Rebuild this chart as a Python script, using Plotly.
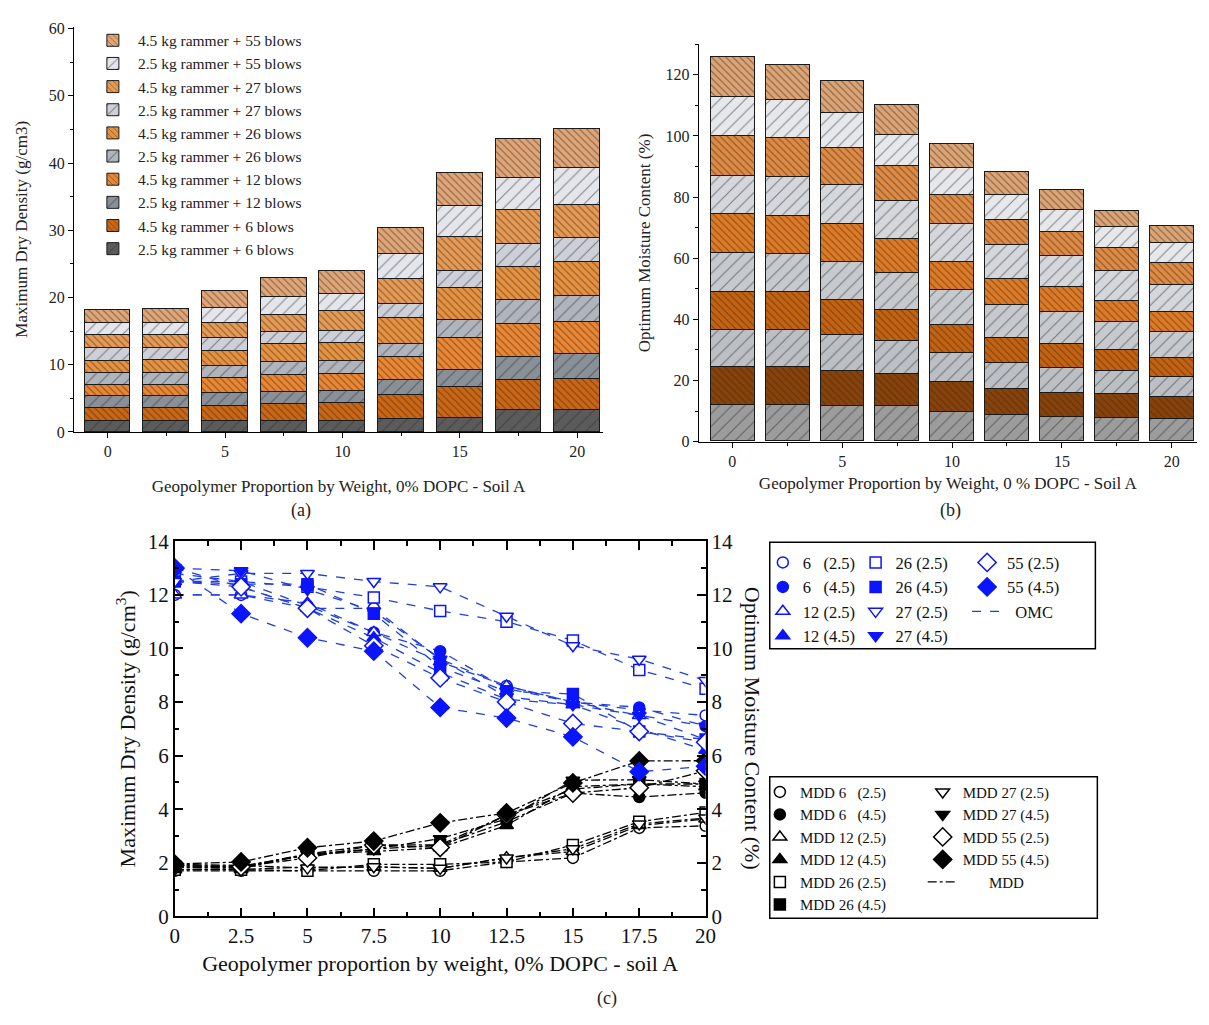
import plotly.graph_objects as go

# Geopolymer proportion by weight (%)
geo = [0, 2.5, 5, 7.5, 10, 12.5, 15, 17.5, 20]

# Maximum dry density (g/cm3) per compaction effort: blows (rammer mass, kg)
mdd_06_25 = [1.70, 1.70, 1.70, 1.70, 1.70, 2.03, 2.18, 3.30, 3.38]
mdd_06_45 = [1.88, 1.88, 2.27, 2.51, 2.66, 3.53, 4.60, 4.45, 4.61]
mdd_12_25 = [1.75, 1.75, 1.84, 1.84, 1.79, 2.19, 2.42, 3.39, 3.63]
mdd_12_45 = [1.74, 1.78, 2.32, 2.42, 2.56, 3.39, 4.84, 4.94, 4.84]
mdd_26_25 = [1.74, 1.74, 1.70, 1.94, 1.94, 2.03, 2.66, 3.53, 3.88]
mdd_26_45 = [1.84, 1.84, 2.33, 2.66, 2.67, 3.78, 4.75, 4.94, 4.94]
mdd_27_25 = [1.94, 1.90, 1.80, 1.85, 1.79, 2.18, 2.52, 3.45, 3.67]
mdd_27_45 = [1.83, 1.83, 2.32, 2.51, 2.90, 3.63, 5.08, 5.10, 4.94]
mdd_55_25 = [1.89, 1.85, 2.18, 2.66, 2.57, 3.78, 4.60, 4.80, 5.43]
mdd_55_45 = [1.95, 2.03, 2.56, 2.81, 3.49, 3.86, 4.98, 5.80, 5.81]

# Optimum moisture content (%) per compaction effort
omc_06_25 = [12.0, 12.0, 11.5, 11.5, 9.6, 8.6, 8.0, 7.7, 7.5]
omc_06_45 = [12.5, 12.5, 11.6, 10.6, 9.9, 8.5, 8.0, 7.8, 7.1]
omc_12_25 = [12.0, 12.0, 11.7, 10.6, 9.5, 8.6, 8.0, 7.5, 6.6]
omc_12_45 = [12.5, 12.3, 11.5, 10.4, 9.1, 8.1, 7.9, 7.0, 6.2]
omc_26_25 = [12.8, 12.5, 12.3, 11.9, 11.4, 11.0, 10.3, 9.2, 8.5]
omc_26_45 = [12.5, 12.4, 12.4, 11.3, 9.3, 8.4, 8.3, 6.9, 6.6]
omc_27_25 = [12.5, 12.8, 12.8, 12.5, 12.3, 11.2, 10.1, 9.6, 8.8]
omc_27_45 = [13.0, 12.9, 12.2, 11.4, 9.6, 8.2, 7.9, 7.5, 7.1]
omc_55_25 = [13.0, 12.3, 11.5, 10.1, 8.9, 8.0, 7.2, 6.9, 6.5]
omc_55_45 = [13.0, 11.3, 10.4, 9.9, 7.8, 7.4, 6.7, 5.4, 5.6]

blows = [6, 6, 12, 12, 26, 26, 27, 27, 55, 55]
rammer = [2.5, 4.5, 2.5, 4.5, 2.5, 4.5, 2.5, 4.5, 2.5, 4.5]

mdd = [mdd_06_25, mdd_06_45, mdd_12_25, mdd_12_45, mdd_26_25,
       mdd_26_45, mdd_27_25, mdd_27_45, mdd_55_25, mdd_55_45]
omc = [omc_06_25, omc_06_45, omc_12_25, omc_12_45, omc_26_25,
       omc_26_45, omc_27_25, omc_27_45, omc_55_25, omc_55_45]

W, H = 1209, 1025
SERIF = "Liberation Serif"


def px(v):
    return v / W


def py(v):
    return 1 - v / H


# Fill colours of the stacked segments
colors_a = ["#5b5b5b", "#cc6612", "#8a9098", "#ec8630", "#b0b4bc",
            "#e8923e", "#cdd0d8", "#e89a52", "#e4e6ec", "#e2a676"]
colors_b = ["#9c9c9c", "#8a4208", "#bcc0c4", "#c6620e", "#c6cacf",
            "#e07a22", "#d4d7db", "#e08a42", "#e6e8eb", "#dea474"]

fig = go.Figure()

for i in range(10):
    heavy = rammer[i] == 4.5
    label = f"{rammer[i]} kg rammer + {blows[i]} blows"
    for ax, vals, cols, wdt, show in (("", mdd, colors_a, 1.95, True),
                                      ("2", omc, colors_b, 2.0, False)):
        fig.add_trace(go.Bar(
            x=geo, y=vals[i], name=label, width=wdt,
            xaxis="x" + ax, yaxis="y" + ax,
            showlegend=show, legend="legend",
            marker=dict(
                color=cols[i],
                line=dict(color="#1a1a1a", width=1),
                pattern=dict(shape="\\" if heavy else "/",
                             fgcolor="#2b2b2b", bgcolor=cols[i],
                             size=5 if heavy else 9,
                             solidity=0.22 if heavy else 0.13,
                             fillmode="overlay"),
            ),
        ))

# Marker symbols per compaction effort
symbols = ["circle", "circle", "triangle-up", "triangle-up", "square",
           "square", "triangle-down", "triangle-down", "diamond", "diamond"]
sizes = [11, 11, 12, 12, 11, 11, 12, 12, 14, 14]
nb = "\u00a0"


def short_name(i):
    b = f"{blows[i]}" + (nb * 3 if blows[i] < 10 else " ")
    return f"{b}({rammer[i]})"


omc_legends = ["legend2"] * 4 + ["legend3"] * 4 + ["legend4"] * 2
mdd_legends = ["legend5"] * 6 + ["legend6"] * 4

# MDD lines and markers (left axis)
for i in range(10):
    fig.add_trace(go.Scatter(
        x=geo, y=mdd[i], mode="lines", xaxis="x3", yaxis="y3",
        line=dict(color="black", width=1.3, dash="dashdot"),
        name=nb * 7 + "MDD", showlegend=(i == 0), legend="legend6",
        legendrank=1100, hoverinfo="skip"))
for i in range(10):
    filled = rammer[i] == 4.5
    fig.add_trace(go.Scatter(
        x=geo, y=mdd[i], mode="markers", xaxis="x3", yaxis="y3",
        name="MDD " + short_name(i), legend=mdd_legends[i],
        legendrank=1000 + i,
        marker=dict(symbol=symbols[i], size=sizes[i],
                    color="black" if filled else "white",
                    line=dict(color="black", width=1.5))))

# OMC lines and markers (right axis)
for i in range(10):
    fig.add_trace(go.Scatter(
        x=geo, y=omc[i], mode="lines", xaxis="x3", yaxis="y4",
        line=dict(color="#1f3fe0", width=1.3, dash="dash"),
        name=nb * 2 + "OMC", showlegend=(i == 0), legend="legend4",
        legendrank=1100, hoverinfo="skip"))
for i in range(10):
    filled = rammer[i] == 4.5
    fig.add_trace(go.Scatter(
        x=geo, y=omc[i], mode="markers", xaxis="x3", yaxis="y4",
        name=short_name(i), legend=omc_legends[i], legendrank=1000 + i,
        marker=dict(symbol=symbols[i], size=sizes[i],
                    color="#0a14ff" if filled else "white",
                    line=dict(color="#0a14ff", width=1.5))))

axis_common = dict(showline=True, linecolor="black", linewidth=1,
                   showgrid=False, zeroline=False, ticks="outside",
                   tickcolor="black", ticklen=5,
                   tickfont=dict(family=SERIF, size=16, color="#222"))

small_title = dict(family=SERIF, size=17, color="#222")
big_font = dict(family=SERIF, size=21, color="#111")

fig.update_layout(
    width=W, height=H, margin=dict(l=0, r=0, t=0, b=0),
    paper_bgcolor="white", plot_bgcolor="white",
    barmode="stack", bargap=0,
    xaxis=dict(axis_common, domain=[px(70), px(606)], range=[-1.43, 21.1],
               tick0=0, dtick=5, anchor="y",
               minor=dict(dtick=2.5, ticks="outside", ticklen=3, tickcolor="black"),
               title=dict(text="Geopolymer Proportion by Weight, 0% DOPC - Soil A",
                          font=small_title, standoff=20)),
    yaxis=dict(axis_common, domain=[py(430), py(15)], range=[0, 60.3],
               dtick=10, anchor="x",
               minor=dict(dtick=5, ticks="outside", ticklen=3, tickcolor="black"),
               title=dict(text="Maximum Dry Density (g/cm3)",
                          font=small_title, standoff=16)),
    xaxis2=dict(axis_common, domain=[px(703), px(1208)], range=[-1.53, 21.15],
                tick0=0, dtick=5, anchor="y2",
                minor=dict(dtick=2.5, ticks="outside", ticklen=3, tickcolor="black"),
                title=dict(text="Geopolymer Proportion by Weight, 0 % DOPC - Soil A",
                           font=small_title, standoff=8)),
    yaxis2=dict(axis_common, domain=[py(440), py(33)], range=[0, 130],
                dtick=20, anchor="x2",
                minor=dict(dtick=10, ticks="outside", ticklen=3, tickcolor="black"),
                title=dict(text="Optimum Moisture Content (%)",
                           font=small_title, standoff=10)),
    xaxis3=dict(showline=True, linecolor="black", linewidth=1.5, mirror="ticks",
                showgrid=False, zeroline=False, ticks="inside", ticklen=9,
                tickcolor="black", tickwidth=1.5,
                domain=[px(172), px(710)], range=[0, 20], dtick=2.5,
                anchor="y3", tickfont=big_font,
                minor=dict(dtick=1.25, ticks="inside", ticklen=5,
                           tickcolor="black", tickwidth=1.5),
                title=dict(text="Geopolymer proportion by weight, 0% DOPC - soil A",
                           font=dict(family=SERIF, size=22, color="#111"),
                           standoff=8)),
    yaxis3=dict(showline=True, linecolor="black", linewidth=1.5,
                showgrid=False, zeroline=False, ticks="inside", ticklen=9,
                tickcolor="black", tickwidth=1.5,
                domain=[py(926), py(542)], range=[0, 14], dtick=2,
                anchor="x3", tickfont=big_font,
                minor=dict(dtick=1, ticks="inside", ticklen=5,
                           tickcolor="black", tickwidth=1.5),
                title=dict(text="Maximum Dry Density (g/cm<sup>3</sup>)",
                           font=dict(family=SERIF, size=22, color="#111"),
                           standoff=6)),
    yaxis4=dict(showline=True, linecolor="black", linewidth=1.5,
                showgrid=False, zeroline=False, ticks="inside", ticklen=9,
                tickcolor="black", tickwidth=1.5,
                overlaying="y3", side="right", anchor="x3",
                range=[0, 14], dtick=2, tickfont=big_font,
                minor=dict(dtick=1, ticks="inside", ticklen=5,
                           tickcolor="black", tickwidth=1.5)),
    legend=dict(x=px(84), y=py(12), xanchor="left", yanchor="top",
                traceorder="reversed", bgcolor="rgba(0,0,0,0)",
                font=dict(family=SERIF, size=15.5, color="#222"),
                itemwidth=40, tracegroupgap=0),
    shapes=[
        dict(type="rect", xref="paper", yref="paper",
             x0=px(775), x1=px(1105), y0=py(652), y1=py(543),
             line=dict(color="black", width=1.5)),
        dict(type="rect", xref="paper", yref="paper",
             x0=px(775), x1=px(1107), y0=py(928), y1=py(783),
             line=dict(color="black", width=1.5)),
    ],
    annotations=[
        dict(text="(a)", x=px(300), y=py(510), xref="paper", yref="paper",
             xanchor="center", yanchor="middle",
             showarrow=False, font=dict(family=SERIF, size=18, color="#222")),
        dict(text="(b)", x=px(958), y=py(510), xref="paper", yref="paper",
             xanchor="center", yanchor="middle",
             showarrow=False, font=dict(family=SERIF, size=18, color="#222")),
        dict(text="(c)", x=px(610), y=py(1010), xref="paper", yref="paper",
             xanchor="center", yanchor="middle",
             showarrow=False, font=dict(family=SERIF, size=18, color="#222")),
        dict(text="Optimum Moisture Content (%)", x=px(757), y=py(734),
             xref="paper", yref="paper", showarrow=False, textangle=90,
             xanchor="center", yanchor="middle",
             font=dict(family=SERIF, size=22, color="#111")),
    ],
)

for name, x, y, fs in (("legend2", 768, 546, 16.5), ("legend3", 862, 546, 16.5),
                       ("legend4", 975, 546, 16.5), ("legend5", 765, 782, 15),
                       ("legend6", 930, 782, 15)):
    fig.update_layout({name: dict(x=px(x), y=py(y), xanchor="left", yanchor="top",
                                  bgcolor="rgba(0,0,0,0)",
                                  font=dict(family=SERIF, size=fs, color="#111"),
                                  itemwidth=30, tracegroupgap=0,
                                  traceorder="normal")})

fig.write_html("out.html")
